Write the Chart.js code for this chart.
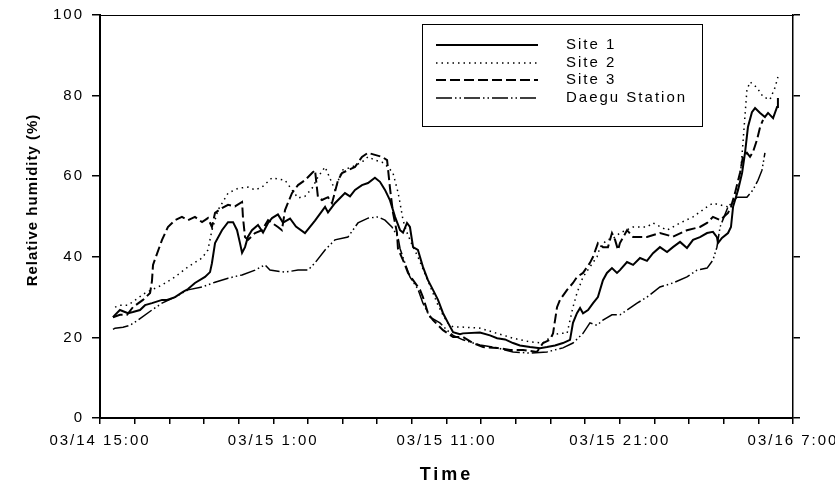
<!DOCTYPE html>
<html>
<head>
<meta charset="utf-8">
<title>Relative humidity</title>
<script src="https://cdn.jsdelivr.net/npm/chart.js@4/dist/chart.umd.min.js"></script>
<style>
  html, body { margin: 0; padding: 0; background: #fff; }
  canvas { display: block; }
</style>
</head>
<body>
<canvas id="chart" width="835" height="482"></canvas>
<script>
// Time axis: hours since 03/14 15:00, labelled every 10 hours.
const tickLabels = ['03/14 15:00', '03/15 1:00', '03/15 11:00', '03/15 21:00', '03/16 7:00'];
const seriesNames = ['Site 1', 'Site 2', 'Site 3', 'Daegu Station'];

// [hours since 03/14 15:00, relative humidity %]
const site1 = [
  [0.75, 25.0], [0.87, 25.6], [1.15, 26.8], [1.44, 26.3], [1.62, 26.0], [1.90, 26.3], [2.31, 26.8],
  [2.60, 28.0], [3.00, 28.5], [3.58, 29.3], [3.87, 29.3], [4.33, 30.0], [4.79, 31.3], [5.08, 32.0],
  [5.48, 33.5], [6.06, 35.0], [6.35, 36.2], [6.46, 38.4], [6.64, 43.4], [7.04, 46.6], [7.39, 48.6],
  [7.68, 48.6], [7.91, 46.6], [8.08, 43.4], [8.20, 41.0], [8.37, 42.4], [8.54, 45.0], [8.77, 46.6],
  [9.12, 47.9], [9.41, 46.0], [9.70, 48.4], [9.93, 49.6], [10.27, 50.5], [10.56, 48.5], [10.97, 49.5],
  [11.31, 47.5], [11.83, 45.9], [12.41, 49.0], [12.99, 52.4], [13.16, 51.0], [13.56, 53.3], [14.14, 55.8],
  [14.43, 55.0], [14.72, 56.6], [15.12, 57.8], [15.47, 58.3], [15.87, 59.6], [16.16, 58.6], [16.45, 56.6],
  [16.74, 54.0], [17.03, 49.9], [17.32, 46.6], [17.49, 46.0], [17.72, 48.4], [17.89, 47.4], [18.07, 42.4],
  [18.35, 41.7], [18.64, 37.5], [18.93, 34.2], [19.22, 31.8], [19.51, 29.3], [19.80, 26.0], [20.09, 23.6],
  [20.38, 21.3], [20.78, 20.8], [20.95, 21.0], [21.93, 21.2], [22.51, 20.5], [22.92, 19.8], [23.38, 19.5],
  [23.84, 18.6], [24.24, 18.0], [24.82, 17.6], [25.40, 17.3], [25.80, 17.6], [26.26, 18.0], [26.72, 18.6],
  [27.13, 19.4], [27.30, 23.6], [27.53, 26.0], [27.71, 27.3], [27.88, 26.0], [28.17, 26.8], [28.46, 28.5],
  [28.74, 30.0], [29.03, 34.2], [29.26, 36.0], [29.55, 37.2], [29.84, 36.0], [30.01, 36.7], [30.42, 38.7],
  [30.77, 38.0], [31.17, 39.7], [31.57, 39.0], [31.92, 40.9], [32.32, 42.4], [32.73, 41.2], [33.07, 42.4],
  [33.48, 43.7], [33.88, 42.2], [34.23, 44.2], [34.63, 44.9], [35.04, 45.9], [35.38, 46.2], [35.61, 44.9],
  [35.67, 43.4], [35.90, 44.7], [36.25, 45.9], [36.42, 47.4], [36.54, 52.4], [36.83, 56.6], [37.06, 60.8],
  [37.23, 65.8], [37.40, 72.2], [37.63, 75.9], [37.81, 76.9], [38.10, 75.7], [38.38, 74.7], [38.56, 75.7],
  [38.85, 74.4], [39.08, 77.2], [39.13, 79.4]
];

const site2 = [
  [0.87, 27.5], [1.15, 28.0], [1.62, 28.0], [2.60, 31.0], [3.58, 33.0], [4.33, 35.0], [5.08, 37.5],
  [5.89, 39.7], [6.23, 41.7], [6.46, 46.6], [6.81, 51.6], [7.39, 55.8], [7.97, 57.0], [8.54, 57.3],
  [8.95, 56.6], [9.35, 57.3], [9.93, 59.6], [10.68, 59.0], [11.08, 56.6], [11.43, 54.6], [11.83, 55.0],
  [12.24, 57.0], [12.58, 59.8], [12.99, 62.3], [13.39, 58.3], [13.56, 56.6], [13.97, 61.5], [14.55, 62.3],
  [15.12, 63.5], [15.47, 64.8], [15.87, 64.0], [16.28, 63.5], [16.62, 62.3], [16.91, 60.8], [17.20, 56.0],
  [17.32, 53.3], [17.49, 49.1], [17.72, 46.0], [18.01, 43.0], [18.35, 40.0], [18.64, 37.0], [18.93, 34.0],
  [19.22, 31.0], [19.51, 28.0], [19.80, 25.5], [20.09, 23.5], [20.38, 22.6], [20.78, 22.6], [21.93, 22.3],
  [22.92, 21.0], [23.84, 19.8], [24.82, 18.9], [25.57, 18.6], [26.15, 20.6], [26.55, 21.0], [26.96, 21.0],
  [27.13, 24.3], [27.30, 27.5], [27.53, 31.0], [27.88, 35.0], [28.28, 37.5], [28.69, 40.0], [28.86, 42.4],
  [29.26, 44.2], [29.61, 44.5], [30.01, 45.9], [30.77, 47.4], [31.57, 47.4], [31.92, 48.4], [32.73, 46.6],
  [33.48, 48.4], [34.23, 49.9], [35.04, 52.4], [35.38, 53.3], [36.25, 52.4], [36.54, 53.3], [36.77, 55.8],
  [36.94, 59.0], [37.11, 68.2], [37.34, 81.4], [37.52, 83.4], [37.92, 82.0], [38.27, 79.7], [38.67, 79.0],
  [38.96, 82.0], [39.13, 84.6]
];

const site3 = [
  [0.75, 25.0], [1.15, 25.6], [1.56, 25.6], [1.90, 27.5], [2.48, 29.3], [2.89, 31.0], [3.00, 34.0],
  [3.06, 38.0], [3.58, 44.2], [3.92, 47.4], [4.33, 49.1], [4.73, 49.9], [5.08, 49.1], [5.48, 49.9],
  [5.89, 48.6], [6.23, 49.6], [6.46, 47.4], [6.64, 50.9], [7.04, 52.1], [7.39, 52.9], [7.79, 52.5],
  [8.20, 53.6], [8.25, 49.9], [8.37, 44.9], [8.54, 44.2], [8.95, 45.9], [9.35, 46.6], [9.70, 49.1],
  [9.93, 48.4], [10.27, 47.4], [10.50, 46.6], [10.68, 51.6], [11.08, 55.8], [11.43, 57.8], [11.83, 59.0],
  [12.24, 60.8], [12.41, 61.5], [12.58, 54.8], [12.81, 54.1], [13.16, 54.8], [13.39, 53.3], [13.74, 59.0],
  [13.97, 60.8], [14.31, 61.5], [14.72, 62.3], [15.12, 64.8], [15.47, 65.8], [15.87, 65.3], [16.28, 64.8],
  [16.57, 64.0], [16.74, 57.0], [16.91, 51.0], [17.14, 46.0], [17.20, 42.0], [17.49, 39.2], [17.78, 36.0],
  [18.07, 34.2], [18.47, 31.8], [18.64, 30.0], [18.93, 26.0], [19.22, 24.3], [19.80, 21.8], [20.38, 20.1],
  [20.95, 20.1], [21.53, 18.6], [22.11, 17.6], [22.92, 17.4], [23.67, 16.9], [24.42, 16.9], [25.22, 16.4],
  [25.57, 18.6], [25.97, 19.4], [26.15, 21.0], [26.38, 27.5], [26.55, 29.3], [26.96, 31.8], [27.30, 33.5],
  [27.53, 35.0], [27.88, 36.0], [28.28, 38.5], [28.46, 40.0], [28.74, 43.4], [29.03, 42.4], [29.32, 42.4],
  [29.55, 45.9], [29.73, 44.2], [29.90, 41.7], [30.01, 43.4], [30.42, 46.6], [30.77, 44.9], [31.57, 44.9],
  [32.32, 45.9], [33.07, 45.0], [33.88, 46.6], [34.63, 47.4], [35.04, 48.4], [35.38, 49.9], [35.79, 49.1],
  [36.25, 50.9], [36.42, 52.4], [36.65, 55.8], [36.94, 60.8], [37.11, 64.8], [37.34, 65.8], [37.52, 64.8],
  [37.69, 66.0], [37.92, 69.0], [38.10, 72.2], [38.27, 74.0]
];

const daegu = [
  [0.75, 22.0], [0.87, 22.3], [1.33, 22.5], [1.73, 23.0], [2.19, 24.3], [3.00, 26.8], [3.58, 28.5],
  [4.33, 30.0], [5.08, 31.8], [5.89, 32.5], [6.64, 33.7], [7.39, 34.7], [8.20, 35.5], [8.95, 36.7],
  [9.52, 38.0], [9.81, 36.7], [10.68, 36.2], [11.43, 36.7], [12.01, 36.7], [12.41, 38.5], [12.99, 41.7],
  [13.56, 44.2], [14.31, 44.9], [14.89, 48.4], [15.47, 49.6], [16.05, 49.9], [16.45, 49.1], [16.85, 47.4],
  [17.20, 44.9], [17.32, 42.0], [17.60, 38.5], [17.89, 35.0], [18.35, 32.0], [18.64, 28.5], [19.05, 25.0],
  [19.62, 23.6], [20.03, 21.8], [20.38, 20.5], [20.95, 19.4], [21.93, 18.1], [22.92, 17.4], [23.84, 16.4],
  [24.82, 16.1], [25.80, 16.4], [26.72, 17.4], [27.30, 18.6], [27.88, 21.0], [28.28, 23.6], [28.69, 23.0],
  [29.03, 24.3], [29.55, 25.6], [30.01, 25.6], [30.42, 26.8], [31.00, 28.5], [31.57, 30.0], [32.32, 32.5],
  [33.07, 33.5], [33.88, 35.0], [34.46, 36.7], [35.04, 37.2], [35.38, 39.2], [35.61, 42.4], [35.79, 47.4],
  [36.25, 52.4], [36.77, 54.8], [37.34, 54.8], [37.69, 56.6], [37.98, 59.0], [38.21, 61.5], [38.38, 65.8]
];

const FONT = '"Liberation Sans", Arial, Helvetica, sans-serif';

const toPoints = rows => rows.map(([h, v]) => ({ x: h, y: v }));

// Draws a scale title with its own letter spacing and an optional vertical shift.
function spacedTitle(scale, spacing, dy) {
  if (scale.$spacedTitle) return;
  const draw = scale.drawTitle;
  scale.drawTitle = function () {
    const ctx = this.ctx;
    ctx.save();
    ctx.letterSpacing = spacing;
    ctx.translate(0, dy);
    draw.apply(this, arguments);
    ctx.restore();
  };
  scale.$spacedTitle = true;
}

function noPadding(scale) {
  scale.paddingLeft = scale.paddingRight = scale.paddingTop = scale.paddingBottom = 0;
}

// Wide letter spacing for all tick text.
const letterSpacingPlugin = {
  id: 'letterSpacing',
  beforeDraw(chart) { chart.ctx.letterSpacing = '2px'; }
};

// Framed legend box inside the plot area.
const framedLegend = {
  id: 'framedLegend',
  afterDatasetsDraw(chart) {
    const { ctx, chartArea: a } = chart;
    const left = a.left + 322, top = a.top + 9, w = 280, h = 102;
    ctx.save();
    ctx.fillStyle = '#fff';
    ctx.fillRect(left, top, w, h);
    ctx.setLineDash([]);
    ctx.lineWidth = 1;
    ctx.strokeStyle = '#000';
    ctx.strokeRect(left + 0.5, top + 0.5, w, h);
    chart.data.datasets.forEach((ds, i) => {
      const y = Math.round(top + 21 + i * 17.7);
      ctx.beginPath();
      ctx.setLineDash(ds.borderDash || []);
      ctx.lineWidth = ds.borderWidth;
      ctx.strokeStyle = ds.borderColor;
      ctx.moveTo(left + 14, y);
      ctx.lineTo(left + 116, y);
      ctx.stroke();
      ctx.setLineDash([]);
      ctx.fillStyle = '#000';
      ctx.font = '15px ' + FONT;
      ctx.letterSpacing = '2px';
      ctx.textBaseline = 'middle';
      ctx.textAlign = 'left';
      ctx.fillText(ds.label, left + 144, y);
    });
    ctx.restore();
  }
};

const lineStyles = [
  { borderWidth: 2, borderDash: [] },
  { borderWidth: 1.5, borderDash: [1.5, 4] },
  { borderWidth: 2, borderDash: [10, 4] },
  { borderWidth: 1.5, borderDash: [16, 3, 1.5, 3, 1.5, 3] }
];

const seriesData = [site1, site2, site3, daegu];

new Chart(document.getElementById('chart'), {
  type: 'line',
  data: {
    datasets: seriesData.map((rows, i) => ({
      label: seriesNames[i],
      data: toPoints(rows),
      borderColor: '#000',
      backgroundColor: '#000',
      borderWidth: lineStyles[i].borderWidth,
      borderDash: lineStyles[i].borderDash,
      pointRadius: 0,
      tension: 0,
      fill: false
    }))
  },
  options: {
    responsive: false,
    animation: false,
    devicePixelRatio: 1,
    layout: { padding: 0 },
    plugins: {
      legend: { display: false },
      tooltip: { enabled: false }
    },
    scales: {
      x: {
        type: 'linear',
        position: 'bottom',
        min: 0,
        max: 40,
        ticks: {
          stepSize: 2,
          autoSkip: false,
          maxRotation: 0,
          maxTicksLimit: 100,
          color: '#000',
          padding: 8,
          font: { family: FONT, size: 15 },
          callback: v => (Math.round(v) % 10 === 0 ? tickLabels[Math.round(v) / 10] : '')
        },
        grid: { drawOnChartArea: false, drawTicks: true, tickLength: 6, color: '#000', lineWidth: 1.5 },
        border: { display: true, color: '#000', width: 2 },
        title: {
          display: true,
          text: 'Time',
          color: '#000',
          font: { family: FONT, size: 18, weight: 'bold', lineHeight: 1 },
          padding: { top: 0, bottom: -2 }
        },
        afterFit: s => { s.height = 64; noPadding(s); spacedTitle(s, '3px', 0); }
      },
      xTop: {
        type: 'linear',
        position: 'top',
        min: 0,
        max: 40,
        ticks: { display: false },
        grid: { drawOnChartArea: false, drawTicks: false },
        border: { display: true, color: '#000', width: 1 },
        afterFit: s => { s.height = 15; noPadding(s); }
      },
      y: {
        position: 'left',
        min: 0,
        max: 100,
        ticks: { stepSize: 20, color: '#000', padding: 8, font: { family: FONT, size: 15 } },
        grid: { drawOnChartArea: false, drawTicks: true, tickLength: 8, color: '#000', lineWidth: 1.5 },
        border: { display: true, color: '#000', width: 2 },
        title: {
          display: true,
          text: 'Relative humidity (%)',
          color: '#000',
          font: { family: FONT, size: 15, weight: 'bold' },
          padding: { top: 24, bottom: 0 }
        },
        afterFit: s => { s.width = 100; noPadding(s); spacedTitle(s, '1px', -16.5); }
      },
      yRight: {
        position: 'right',
        min: 0,
        max: 100,
        ticks: { display: false, stepSize: 20 },
        grid: { drawOnChartArea: false, drawTicks: true, tickLength: 7, color: '#000', lineWidth: 1.5 },
        border: { display: true, color: '#000', width: 1.5 },
        afterFit: s => { s.width = 42; noPadding(s); }
      }
    }
  },
  plugins: [letterSpacingPlugin, framedLegend]
});
</script>
</body>
</html>
